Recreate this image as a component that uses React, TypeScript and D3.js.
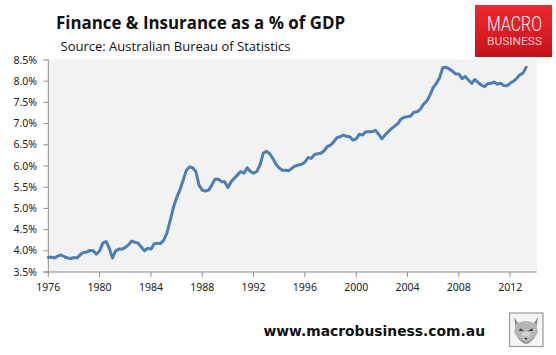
import React from "react";
import * as d3 from "d3";

// Quarterly data starting 1976 Q1 (Finance & Insurance as % of GDP)
const startYear = 1976;
const values: number[] = [
  3.85, 3.85, 3.83, 3.88, 3.9, 3.86, 3.83, 3.82, 3.84, 3.83, 3.91, 3.96, 3.97, 4.01, 4.0, 3.92,
  4.0, 4.18, 4.22, 4.06, 3.83, 4.0, 4.04, 4.04, 4.08, 4.14, 4.23, 4.2, 4.18, 4.09, 4.0, 4.06,
  4.04, 4.16, 4.18, 4.17, 4.25, 4.42, 4.71, 5.02, 5.25, 5.43, 5.65, 5.89, 5.98, 5.96, 5.87, 5.55,
  5.43, 5.41, 5.43, 5.55, 5.69, 5.69, 5.63, 5.63, 5.49, 5.63, 5.71, 5.79, 5.87, 5.83, 5.96, 5.87,
  5.83, 5.87, 6.02, 6.3, 6.35, 6.29, 6.18, 6.04, 5.95, 5.9, 5.9, 5.89, 5.95, 6.0, 6.02, 6.04,
  6.09, 6.2, 6.18, 6.27, 6.29, 6.3, 6.36, 6.46, 6.49, 6.57, 6.67, 6.69, 6.73, 6.7, 6.69, 6.61,
  6.64, 6.75, 6.73, 6.81, 6.81, 6.81, 6.84, 6.75, 6.64, 6.73, 6.81, 6.88, 6.94, 7.0, 7.11, 7.15,
  7.16, 7.18, 7.27, 7.28, 7.34, 7.46, 7.53, 7.67, 7.85, 7.95, 8.08, 8.32, 8.33, 8.29, 8.24, 8.17,
  8.17, 8.06, 8.11, 8.03, 7.95, 8.04, 7.97, 7.91, 7.87, 7.94, 7.95, 7.98, 7.93, 7.95, 7.9, 7.89,
  7.95, 8.0, 8.06, 8.15, 8.19, 8.33,
];
const yTicks = [3.5, 4.0, 4.5, 5.0, 5.5, 6.0, 6.5, 7.0, 7.5, 8.0, 8.5];
const xTicks = [1976, 1980, 1984, 1988, 1992, 1996, 2000, 2004, 2008, 2012];

const title = "Finance & Insurance as a % of GDP";
const subtitle = "Source: Australian Bureau of Statistics";
const url = "www.macrobusiness.com.au";

const W = 556;
const H = 355;
const plot = { left: 48.3, right: 536.7, top: 59.5, bottom: 272 };

export default function App() {
  const x = d3.scaleLinear().domain([1976, 2014.07]).range([plot.left, plot.right]);
  const y = d3.scaleLinear().domain([3.5, 8.5]).range([plot.bottom, 60]);
  const pts = values.map((v, i) => [startYear + i * 0.25, v] as [number, number]);
  const line = d3
    .line<[number, number]>()
    .x((d) => x(d[0]))
    .y((d) => y(d[1]))
    .curve(d3.curveLinear);
  const axisColor = "#8c8c8c";
  const tickFont = "'Noto Sans', sans-serif";

  return (
    <svg
      width={W}
      height={H}
      viewBox={`0 0 ${W} ${H}`}
      style={{ position: "absolute", left: 0, top: 0, background: "#fff" }}
    >
      <defs>
        <linearGradient id="logoGrad" x1="0" y1="0" x2="0" y2="1">
          <stop offset="0" stopColor="#ec2a30" />
          <stop offset="0.5" stopColor="#e01c24" />
          <stop offset="1" stopColor="#c4121a" />
        </linearGradient>
      </defs>
      <rect x={0} y={0} width={W} height={H} fill="#fff" />

      {/* Title */}
      <text
        x={56}
        y={29}
        fontFamily="'Open Sans', sans-serif"
        fontWeight={700}
        fontSize={17.5}
        fill="#111"
        textLength={289}
        lengthAdjust="spacingAndGlyphs"
      >
        {title}
      </text>
      <text
        x={60.5}
        y={50.5}
        fontFamily="'Open Sans', sans-serif"
        fontSize={12.5}
        fill="#111"
        textLength={230}
        lengthAdjust="spacingAndGlyphs"
      >
        {subtitle}
      </text>

      {/* Logo */}
      <rect x={475} y={5} width={77} height={52} fill="url(#logoGrad)" />
      <text
        x={487}
        y={31}
        fontFamily="Roboto, sans-serif"
        fontWeight={300}
        fontSize={20}
        fill="#fff"
        textLength={55}
        lengthAdjust="spacingAndGlyphs"
      >
        MACRO
      </text>
      <text
        x={487}
        y={45}
        fontFamily="Roboto, sans-serif"
        fontWeight={400}
        fontSize={10.5}
        fill="#f7c9cb"
        textLength={55}
        lengthAdjust="spacingAndGlyphs"
      >
        BUSINESS
      </text>

      {/* Plot area */}
      <rect
        x={plot.left}
        y={plot.top}
        width={plot.right - plot.left}
        height={plot.bottom - plot.top}
        fill="#f2f2f2"
      />

      {/* Y axis */}
      <line x1={plot.left} x2={plot.left} y1={plot.top} y2={plot.bottom} stroke={axisColor} strokeWidth={1} />
      {yTicks.map((t) => (
        <g key={t}>
          <line x1={plot.left - 5} x2={plot.left} y1={y(t)} y2={y(t)} stroke={axisColor} strokeWidth={1} />
          <text
            x={37}
            y={y(t)}
            dy="0.35em"
            textAnchor="end"
            fontFamily={tickFont}
            fontSize={10.5}
            fill="#222"
          >
            {t.toFixed(1) + "%"}
          </text>
        </g>
      ))}

      {/* X axis */}
      <line x1={plot.left - 5} x2={plot.right} y1={plot.bottom} y2={plot.bottom} stroke={axisColor} strokeWidth={1} />
      {xTicks.map((t) => (
        <g key={t}>
          <line x1={x(t)} x2={x(t)} y1={plot.bottom} y2={plot.bottom + 5} stroke={axisColor} strokeWidth={1} />
          <text
            x={x(t)}
            y={291}
            textAnchor="middle"
            fontFamily={tickFont}
            fontSize={10.5}
            fill="#222"
          >
            {t}
          </text>
        </g>
      ))}

      {/* Data line */}
      <path
        d={line(pts) || ""}
        fill="none"
        stroke="#4a7ebb"
        strokeWidth={3}
        strokeLinejoin="round"
        strokeLinecap="round"
      />

      {/* Footer URL */}
      <text
        x={263.5}
        y={336}
        fontFamily="'DejaVu Sans', sans-serif"
        fontWeight={700}
        fontSize={13.5}
        fill="#111"
        textLength={221.5}
        lengthAdjust="spacingAndGlyphs"
      >
        {url}
      </text>

      {/* Wolf icon */}
      <g>
        <rect x={509.5} y={313} width={33.5} height={33.5} fill="#f4f4f4" stroke="#9a9a9a" strokeWidth={1.2} />
        <path d="M514 317 L520 326 L516 330 Z" fill="#8a8a8a" />
        <path d="M538 317 L532 326 L536 330 Z" fill="#8a8a8a" />
        <path
          d="M516 324 Q526 318 536 324 L538 332 Q534 340 528 344 L524 344 Q518 340 514 332 Z"
          fill="#b5b5b5"
        />
        <path d="M520 328 L524 331 L519 331 Z" fill="#444" />
        <path d="M532 328 L528 331 L533 331 Z" fill="#444" />
        <path d="M523 336 L529 336 L526 340 Z" fill="#333" />
        <path d="M521 333 Q526 330 531 333 L529 338 L523 338 Z" fill="#d8d8d8" opacity={0.8} />
        <path d="M518 338 Q522 342 526 343 Q530 342 534 338" stroke="#777" strokeWidth={0.8} fill="none" />
      </g>
    </svg>
  );
}
